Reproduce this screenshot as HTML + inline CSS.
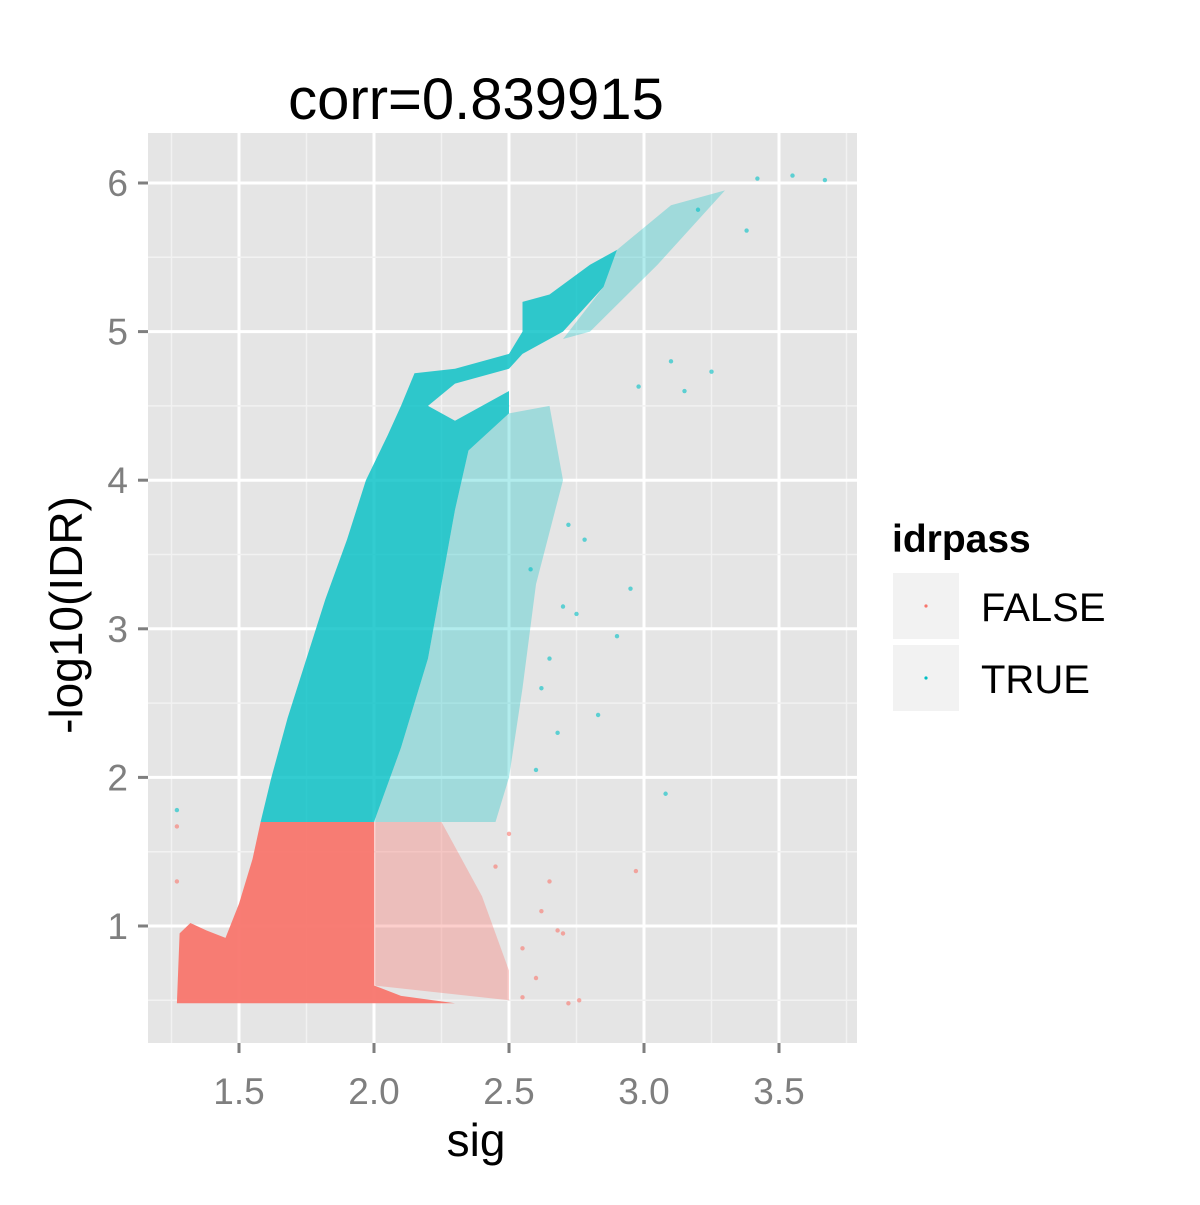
<!DOCTYPE html>
<html><head><meta charset="utf-8"><style>
body{margin:0;background:#fff}
svg text{font-family:"Liberation Sans",sans-serif}
</style></head><body>
<svg width="1200" height="1200" viewBox="0 0 1200 1200">
<rect x="148" y="133" width="709" height="910" fill="#E5E5E5"/>
<g id="grid"></g>
<g id="marks"></g>
<g id="axes"></g>
<text x="476" y="119" font-size="58" text-anchor="middle">corr=0.839915</text>
<text x="476" y="1156" font-size="46" text-anchor="middle">sig</text>
<text transform="translate(82,615) rotate(-90)" font-size="46" text-anchor="middle">-log10(IDR)</text>
<g>
<text x="892" y="552" font-size="39" font-weight="bold">idrpass</text>
<g>
<rect x="893" y="573" width="66" height="66" fill="#F2F2F2"/>
<circle cx="926" cy="606" r="1.6" fill="#F8766D"/>
<text x="981" y="621" font-size="40">FALSE</text></g>
<g>
<rect x="893" y="645" width="66" height="66" fill="#F2F2F2"/>
<circle cx="926" cy="678" r="1.6" fill="#00BFC4"/>
<text x="981" y="693" font-size="40">TRUE</text></g>
</g>
</svg>
<script>
const xTicks=[1.5,2.0,2.5,3.0,3.5];
const xTickLabels=["1.5","2.0","2.5","3.0","3.5"];
const yTicks=[1,2,3,4,5,6];
const yTickLabels=["1","2","3","4","5","6"];
const falseDense=[[1.27,0.48],[2.3,0.48],[2.1,0.53],[2.0,0.6],[2.0,1.0],[2.0,1.7],[1.58,1.7],[1.55,1.45],[1.5,1.15],[1.45,0.92],[1.38,0.97],[1.32,1.02],[1.28,0.95]];
const falseMedium=[[2.0,1.7],[2.25,1.7],[2.4,1.2],[2.5,0.7],[2.5,0.5],[2.0,0.6]];
const trueDense=[[1.58,1.7],[1.62,2.0],[1.68,2.4],[1.75,2.8],[1.82,3.2],[1.9,3.6],[1.97,4.0],[2.05,4.3],[2.1,4.5],[2.15,4.72],[2.3,4.75],[2.5,4.85],[2.55,5.0],[2.55,5.2],[2.65,5.25],[2.8,5.45],[2.9,5.55],[2.85,5.3],[2.7,5.0],[2.55,4.85],[2.5,4.75],[2.3,4.65],[2.2,4.5],[2.3,4.4],[2.5,4.6],[2.5,4.45],[2.35,4.2],[2.3,3.8],[2.25,3.3],[2.2,2.8],[2.1,2.2],[2.0,1.7]];
const trueMedium=[[2.0,1.7],[2.1,2.2],[2.2,2.8],[2.25,3.3],[2.3,3.8],[2.35,4.2],[2.5,4.45],[2.65,4.5],[2.7,4.0],[2.6,3.3],[2.55,2.6],[2.5,2.0],[2.45,1.7]];
const trueLight=[[2.85,5.3],[2.9,5.55],[3.1,5.85],[3.3,5.95],[3.05,5.45],[2.8,5.0],[2.7,4.95]];
const trueSparseX=[3.42,3.55,3.67,3.38,3.2,3.25,3.1,3.15,2.98,3.08,2.95,2.72,2.78,2.9,2.83,2.65,2.7,2.62,1.27,2.58,2.75,2.68,2.6];
const trueSparseY=[6.03,6.05,6.02,5.68,5.82,4.73,4.8,4.6,4.63,1.89,3.27,3.7,3.6,2.95,2.42,2.8,3.15,2.6,1.78,3.4,3.1,2.3,2.05];
const falseSparseX=[2.72,2.76,2.97,2.7,2.65,2.6,2.55,2.5,1.27,1.27,2.68,2.62,2.55,2.45];
const falseSparseY=[0.48,0.5,1.37,0.95,1.3,0.65,0.52,1.62,1.67,1.3,0.97,1.1,0.85,1.4];
const sx=v=>239+(v-1.5)*270, sy=v=>926-(v-1)*148.6;
const NS="http://www.w3.org/2000/svg";
const grid=document.getElementById('grid'),marks=document.getElementById('marks'),axes=document.getElementById('axes');
function line(p,x1,y1,x2,y2,c,w){const l=document.createElementNS(NS,'line');l.setAttribute('x1',x1);l.setAttribute('y1',y1);l.setAttribute('x2',x2);l.setAttribute('y2',y2);l.setAttribute('stroke',c);l.setAttribute('stroke-width',w);p.appendChild(l);return l;}
for(let i=0;i<xTicks.length;i++){
 const m=line(grid,sx(xTicks[i]-0.25),133,sx(xTicks[i]-0.25),1043,'#F2F2F2',1.5);
 
 
 const g=line(grid,sx(xTicks[i]),133,sx(xTicks[i]),1043,'#fff',3);
 
 
 const t=line(axes,sx(xTicks[i]),1043,sx(xTicks[i]),1053,'#7F7F7F',3);
 
 
 const tx=document.createElementNS(NS,'text');tx.setAttribute('x',sx(xTicks[i]));tx.setAttribute('y',1104);tx.setAttribute('font-size',37);tx.setAttribute('fill','#7F7F7F');tx.setAttribute('text-anchor','middle');tx.textContent=xTickLabels[i];
 
 
 axes.appendChild(tx);
}
{const m=line(grid,sx(3.75),133,sx(3.75),1043,'#F2F2F2',1.5);}
for(let i=0;i<yTicks.length;i++){
 const m=line(grid,148,sy(yTicks[i]-0.5),857,sy(yTicks[i]-0.5),'#F2F2F2',1.5);
 
 
 const g=line(grid,148,sy(yTicks[i]),857,sy(yTicks[i]),'#fff',3);
 
 
 const t=line(axes,138,sy(yTicks[i]),148,sy(yTicks[i]),'#7F7F7F',3);
 
 
 const tx=document.createElementNS(NS,'text');tx.setAttribute('x',128);tx.setAttribute('y',sy(yTicks[i])+13);tx.setAttribute('font-size',37);tx.setAttribute('fill','#7F7F7F');tx.setAttribute('text-anchor','end');tx.textContent=yTickLabels[i];
 
 
 axes.appendChild(tx);
}
function poly(pts,c,op,name){const p=document.createElementNS(NS,'polygon');p.setAttribute('points',pts.map(d=>sx(d[0])+','+sy(d[1])).join(' '));p.setAttribute('fill',c);p.setAttribute('fill-opacity',op);
 
 
 marks.appendChild(p);}
poly(falseMedium,'#F8766D',0.35,'false-points-sparse-region');
poly(falseDense,'#F8766D',0.95,'false-points-dense-region');
poly(trueMedium,'#00BFC4',0.3,'true-points-sparse-region');
poly(trueLight,'#00BFC4',0.3,'true-points-upper-region');
poly(trueDense,'#00BFC4',0.8,'true-points-dense-region');
function pts(xs,ys,c){for(let i=0;i<xs.length;i++){const e=document.createElementNS(NS,'circle');e.setAttribute('cx',sx(xs[i]));e.setAttribute('cy',sy(ys[i]));e.setAttribute('r',2.2);e.setAttribute('fill',c);e.setAttribute('fill-opacity',0.6);
 
 
 marks.appendChild(e);}}
pts(trueSparseX,trueSparseY,'#00BFC4');
pts(falseSparseX,falseSparseY,'#F8766D');
</script>
</body></html>
